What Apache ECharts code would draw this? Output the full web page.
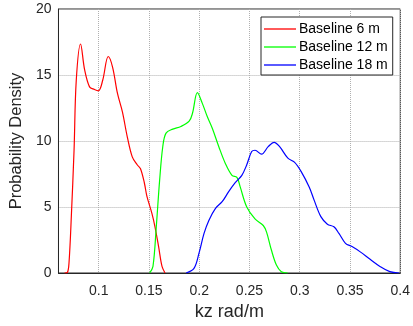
<!DOCTYPE html>
<html><head><meta charset="utf-8">
<script src="https://cdn.jsdelivr.net/npm/echarts@6/dist/echarts.min.js"></script>
<style>html,body{margin:0;padding:0;background:#fff}#c{width:413px;height:326px}</style>
</head><body><div id="c"></div>
<script>
const seriesNames = ['Baseline 6 m', 'Baseline 12 m', 'Baseline 18 m'];
const xTicks = [0.1, 0.15, 0.2, 0.25, 0.3, 0.35, 0.4];
const yTicks = [0, 5, 10, 15, 20];
const b6 = [[0.066,0],[0.0689,0.05],[0.0705,0.8],[0.0728,4.3],[0.0755,9.3],[0.0777,14.6],[0.082,17.35],[0.086,15.4],[0.0909,14.1],[0.0958,13.9],[0.0997,13.8],[0.104,14.6],[0.1095,16.4],[0.1138,15.6],[0.1187,13.6],[0.1236,12.2],[0.1285,10.3],[0.1334,8.8],[0.1383,8.2],[0.1416,7.9],[0.1455,6.8],[0.148,5.8],[0.153,4.5],[0.156,3.5],[0.1596,2.0],[0.163,0.5],[0.166,0]];
const b12 = [[0.1507,0],[0.154,0.5],[0.1573,3.5],[0.1606,7.0],[0.1638,9.6],[0.167,10.6],[0.1737,10.9],[0.1818,11.1],[0.19,11.5],[0.1933,12.1],[0.1982,13.66],[0.2031,12.85],[0.208,11.85],[0.213,10.96],[0.2195,9.57],[0.226,8.3],[0.2326,7.4],[0.2375,7.25],[0.2407,6.54],[0.2473,5.0],[0.2555,4.1],[0.2637,3.6],[0.267,3.1],[0.2718,1.74],[0.2768,0.6],[0.2817,0.1],[0.288,0]];
const b18 = [[0.187,0],[0.1948,0.35],[0.1998,1.5],[0.2048,3.0],[0.2097,4.0],[0.2162,4.9],[0.2228,5.4],[0.2293,6.16],[0.2358,6.84],[0.2424,7.4],[0.2473,8.2],[0.2522,9.2],[0.2555,9.3],[0.262,9.0],[0.2686,9.57],[0.2745,9.9],[0.28,9.57],[0.2882,8.7],[0.2947,8.4],[0.3013,7.7],[0.3095,6.5],[0.3144,5.5],[0.321,4.27],[0.3275,3.7],[0.334,3.5],[0.339,3.0],[0.3455,2.25],[0.352,2.0],[0.3602,1.6],[0.37,1.04],[0.3798,0.5],[0.3896,0.1],[0.399,0]];
const colors = ['#ff0000', '#00ff00', '#0000ff'];
const font = 'Liberation Sans, Arial, sans-serif';
const chart = echarts.init(document.getElementById('c'));
const gridLine = {show: true, lineStyle: {color: '#b0b0b0', type: [1, 1], width: 1}};
chart.setOption({
  animation: false,
  color: colors,
  grid: {left: 54, right: 12, top: 9, bottom: 53, show: true, borderColor: '#262626', borderWidth: 1, backgroundColor: '#fff'},
  legend: {
    orient: 'vertical', left: 261, top: 17, itemWidth: 32, itemHeight: 1.3, itemGap: 0,
    icon: 'rect',
    padding: [3, 5, 1, 3], borderColor: '#262626', borderWidth: 1, backgroundColor: '#fff',
    textStyle: {fontFamily: font, fontSize: 14, color: '#000', lineHeight: 18, padding: [0, 0, 0, -2]},
    data: seriesNames
  },
  xAxis: {
    type: 'value', min: 0.06, max: 0.4,
    axisLine: {show: true, lineStyle: {color: '#262626'}},
    splitLine: gridLine,
    axisLabel: {fontFamily: font, fontSize: 14, color: '#262626', margin: 11,
      customValues: xTicks, formatter: v => String(+v.toFixed(2))},
    axisTick: {show: false, customValues: xTicks},
    name: 'kz rad/m', nameLocation: 'middle', nameGap: 28,
    nameTextStyle: {fontFamily: font, fontSize: 18, color: '#262626'}
  },
  yAxis: {
    type: 'value', min: 0, max: 20, interval: 5,
    axisLine: {show: true, lineStyle: {color: '#262626'}},
    axisTick: {show: false},
    splitLine: gridLine,
    axisLabel: {fontFamily: font, fontSize: 14, color: '#262626', margin: 7,
      formatter: v => yTicks.includes(v) ? String(v) : ''},
    name: 'Probability Density', nameLocation: 'middle', nameGap: 26,
    nameTextStyle: {fontFamily: font, fontSize: 16.5, color: '#262626'}
  },
  series: [b6, b12, b18].map((d, i) => ({
    name: seriesNames[i], type: 'line', data: d, smooth: 0.35, showSymbol: false, symbol: 'none',
    lineStyle: {color: colors[i], width: 1.2}, itemStyle: {color: colors[i]}
  }))
});
</script></body></html>
